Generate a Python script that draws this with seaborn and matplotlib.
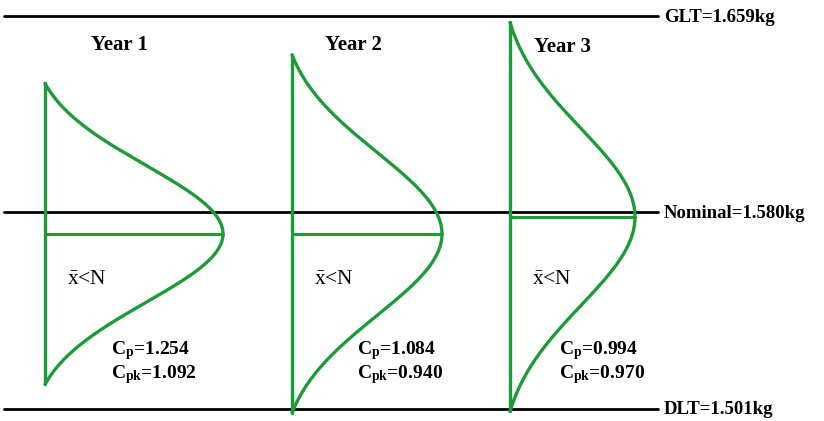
import numpy as np
import pandas as pd
import matplotlib
matplotlib.use("Agg")
import matplotlib.pyplot as plt
import seaborn as sns

# process capability over three years (weights in kg)
years = ["Year 1", "Year 2", "Year 3"]
means = [1.5712, 1.5712, 1.5780]
half_spread = [0.0605, 0.0720, 0.0782]
peak = [178, 150, 125]          # relative height of each bell
cp = [1.254, 1.084, 0.994]
cpk = [1.092, 0.940, 0.970]

limit_names = ["GLT", "Nominal", "DLT"]
limit_values = [1.659, 1.580, 1.501]

GREEN = "#1f9a3a"
base_x = [45, 292, 510]

sns.set_theme(style="white")
plt.rcParams["font.family"] = ["Liberation Serif", "DejaVu Serif"]
plt.rcParams["text.color"] = "black"
plt.rcParams["mathtext.fontset"] = "custom"
plt.rcParams["mathtext.rm"] = "Liberation Serif"
plt.rcParams["mathtext.bf"] = "Liberation Serif:bold"

# half-normal style curves, pinned to the baseline at both ends
rows = []
zmax = 2.2
for yr, m, h, pk, bx in zip(years, means, half_spread, peak, base_x):
    z = np.linspace(-zmax, zmax, 300)
    end = np.exp(-zmax ** 2 / 2)
    dens = (np.exp(-z ** 2 / 2) - end) / (1 - end)
    for zi, d in zip(z, dens):
        rows.append({"year": yr, "x": bx + pk * d, "kg": m + zi * h / zmax})
curves = pd.DataFrame(rows)

fig = plt.figure(figsize=(8.24, 4.21), dpi=100)
ax = fig.add_axes([0, 0, 1, 1])
scale = 393 / (limit_values[0] - limit_values[2])   # px per kg
nom = limit_values[1]
ax.set_xlim(0, 824)
ax.set_ylim(nom - 209 / scale, nom + 212 / scale)
ax.axis("off")

# spec lines
for name, v in zip(limit_names, limit_values):
    ax.plot([4, 658], [v, v], color="black", lw=2)
    ax.text(664, v - 1.5 / scale, f"{name}={v:.3f}kg", fontsize=13.5,
            fontweight="bold", va="center", ha="left")

sns.lineplot(data=curves, x="x", y="kg", units="year", estimator=None,
             sort=False, color=GREEN, lw=2.4, ax=ax, legend=False)

for i, yr in enumerate(years):
    bx = base_x[i]
    lo = means[i] - half_spread[i]
    hi = means[i] + half_spread[i]
    ax.plot([bx, bx], [lo, hi], color=GREEN, lw=2.4)
    ax.plot([bx, bx + peak[i]], [means[i], means[i]], color=GREEN, lw=2.2)

label_x = [119, 353, 563]
label_y = [167, 167, 165]
cx = [111, 357, 559]
for i, yr in enumerate(years):
    ax.text(label_x[i], nom + label_y[i] / scale, yr, fontsize=15,
            fontweight="bold", ha="center", va="center")
    ax.text(base_x[i] + 22, nom - 68 / scale, r"$\bar{\mathrm{x}}$<N",
            fontsize=15.5, ha="left", va="center")
    ax.text(cx[i], nom - 139 / scale, rf"$\mathbf{{C_p}}$={cp[i]:.3f}",
            fontsize=14, fontweight="bold", ha="left", va="center")
    ax.text(cx[i], nom - 163 / scale, rf"$\mathbf{{C_{{pk}}}}$={cpk[i]:.3f}",
            fontsize=14, fontweight="bold", ha="left", va="center")

fig.savefig("out.png", dpi=100)
